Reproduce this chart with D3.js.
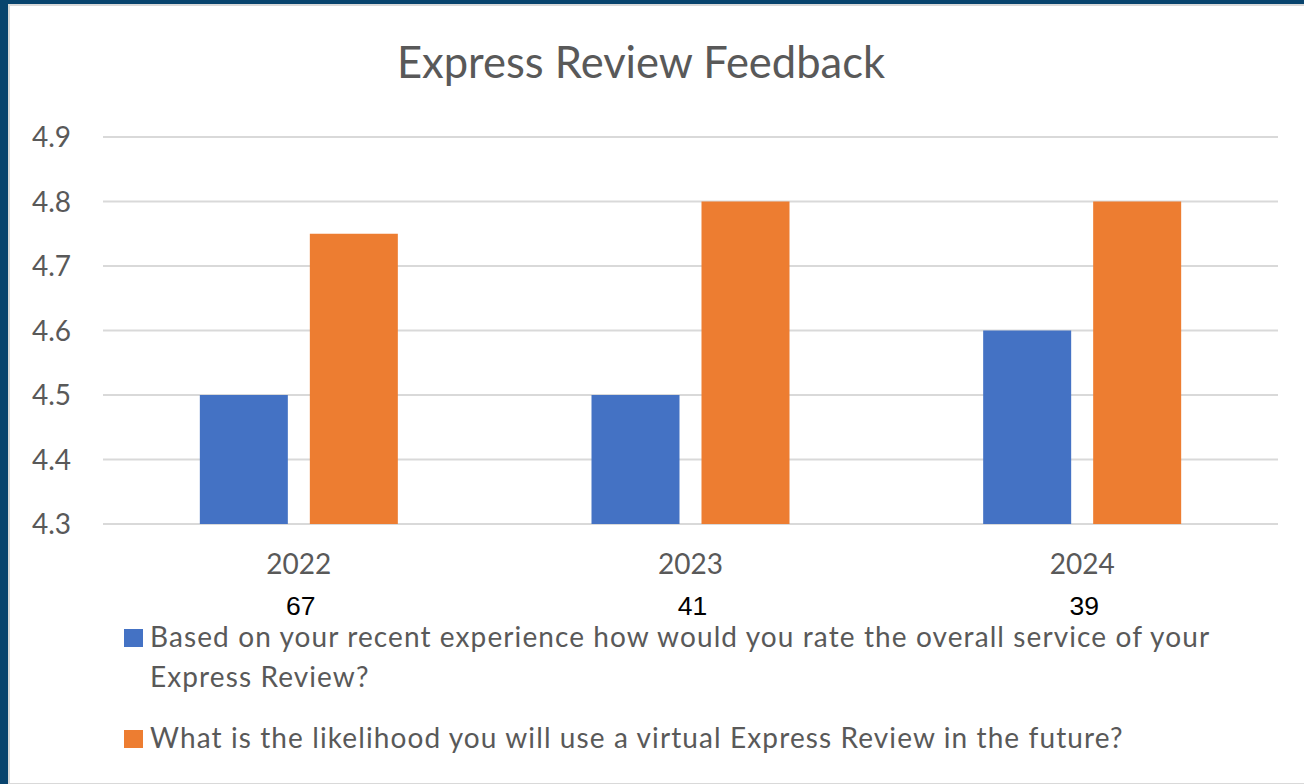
<html>
<head>
<style>
  body { margin: 0; background: #fff; }
  text { font-family: Lato, "Open Sans", sans-serif; }
</style>
</head>
<body>
<script src="https://cdn.jsdelivr.net/npm/d3@7"></script>
<script>
var years = ["2022", "2023", "2024"];
var counts = ["67", "41", "39"];
var seriesNames = ["overall", "virtual"];
var overallService = [4.5, 4.5, 4.6];
var virtualLikelihood = [4.75, 4.8, 4.8];
var yTicks = [4.3, 4.4, 4.5, 4.6, 4.7, 4.8, 4.9];
var colors = ["#4472C4", "#ED7D31"];
var legendLines = [
  ["Based on your recent experience how would you rate the overall service of your", "Express Review?"],
  ["What is the likelihood you will use a virtual Express Review in the future?"]
];

var W = 1304, H = 784;
var svg = d3.select("body").append("svg").attr("width", W).attr("height", H);

// frame
svg.append("rect").attr("width", W).attr("height", H).attr("fill", "#08446e");
svg.append("rect").attr("x", 8).attr("y", 4).attr("width", W - 8).attr("height", H - 4).attr("fill", "#d9d9d9");
svg.append("rect").attr("x", 10).attr("y", 6).attr("width", W - 10).attr("height", H - 7).attr("fill", "#fff");

svg.append("text")
  .attr("x", 641).attr("y", 78)
  .attr("text-anchor", "middle")
  .attr("font-size", 43.5)
  .attr("fill", "#595959")
  .text("Express Review Feedback");

var x = d3.scaleBand().domain(years).range([103, 1278]);
var xs = d3.scaleBand().domain(seriesNames).range([0, 198]).paddingInner(0.2);
var y = d3.scaleLinear().domain([4.3, 4.9]).range([524, 137]);

// gridlines
svg.append("g").selectAll("line").data(yTicks).enter().append("line")
  .attr("x1", 103).attr("x2", 1278)
  .attr("y1", function(d) { return y(d); })
  .attr("y2", function(d) { return y(d); })
  .attr("stroke", "#d9d9d9").attr("stroke-width", 2);

svg.append("g").selectAll("text").data(yTicks).enter().append("text")
  .attr("x", 71)
  .attr("y", function(d) { return y(d) + 10; })
  .attr("text-anchor", "end")
  .attr("font-size", 28)
  .attr("fill", "#595959")
  .text(function(d) { return d.toFixed(1); });

var rows = years.map(function(yr, i) {
  return { year: yr, values: [overallService[i], virtualLikelihood[i]] };
});

var groups = svg.append("g").selectAll("g").data(rows).enter().append("g")
  .attr("transform", function(d) { return "translate(" + (x(d.year) + (x.bandwidth() - 198) / 2) + ",0)"; });

groups.selectAll("rect").data(function(d) {
    return d.values.map(function(v, j) { return { key: seriesNames[j], v: v, c: colors[j] }; });
  }).enter().append("rect")
  .attr("x", function(d) { return xs(d.key); })
  .attr("width", xs.bandwidth())
  .attr("y", function(d) { return y(d.v); })
  .attr("height", function(d) { return y(4.3) - y(d.v); })
  .attr("fill", function(d) { return d.c; });

// x labels
svg.append("g").selectAll("text").data(years).enter().append("text")
  .attr("x", function(d) { return x(d) + x.bandwidth() / 2; })
  .attr("y", 574)
  .attr("text-anchor", "middle")
  .attr("font-size", 28)
  .attr("fill", "#595959")
  .text(function(d) { return d; });

// response counts
svg.append("g").selectAll("text").data(counts).enter().append("text")
  .attr("x", function(d, i) { return x(years[i]) + x.bandwidth() / 2 + 2; })
  .attr("y", 615)
  .attr("text-anchor", "middle")
  .style("font-family", "Arial, 'Liberation Sans', sans-serif")
  .attr("font-size", 26.5)
  .attr("fill", "#000")
  .text(function(d) { return d; });

// legend
var legendY = [629, 730];
var leg = svg.append("g").selectAll("g").data(legendLines).enter().append("g");
leg.append("rect")
  .attr("x", 124).attr("y", function(d, i) { return legendY[i]; })
  .attr("width", 19).attr("height", 18)
  .attr("fill", function(d, i) { return colors[i]; });
leg.each(function(lines, i) {
  var t = d3.select(this).append("text")
    .attr("font-size", 28).attr("fill", "#595959")
    .attr("letter-spacing", 1.1);
  lines.forEach(function(l, k) {
    t.append("tspan").attr("x", 150).attr("y", legendY[i] + 18 + k * 40).text(l);
  });
});
</script>
</body>
</html>
